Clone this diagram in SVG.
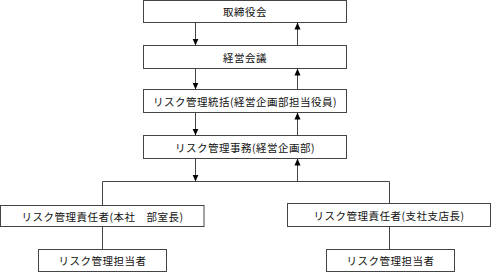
<svg xmlns="http://www.w3.org/2000/svg" width="492" height="273" viewBox="0 0 492 273">
<style>
.box{fill:#fff;stroke:#444;stroke-width:1}
.ln{fill:none;stroke:#444;stroke-width:1}
text{font-family:"Noto Sans CJK JP","Liberation Serif",serif;font-size:10.5px;fill:#111;text-anchor:middle;dominant-baseline:central;letter-spacing:0.5px}
</style>
<defs>
<marker id="ah" viewBox="0 0 7 7" refX="7" refY="3.5" markerWidth="7" markerHeight="7" markerUnits="userSpaceOnUse" orient="auto">
<path d="M0,0.5 L7,3.5 L0,6.5 Z" fill="#000"/>
</marker>
</defs>
<rect width="492" height="273" fill="#fff"/>
<g id="connectors">
<line class="ln" x1="195.5" y1="22.5" x2="195.5" y2="45.5" marker-end="url(#ah)"/>
<line class="ln" x1="195.5" y1="68.5" x2="195.5" y2="89.5" marker-end="url(#ah)"/>
<line class="ln" x1="195.5" y1="112.5" x2="195.5" y2="135.5" marker-end="url(#ah)"/>
<line class="ln" x1="195.5" y1="158.5" x2="195.5" y2="181.5" marker-end="url(#ah)"/>
<line class="ln" x1="297.5" y1="45.5" x2="297.5" y2="22.5" marker-end="url(#ah)"/>
<line class="ln" x1="297.5" y1="89.5" x2="297.5" y2="68.5" marker-end="url(#ah)"/>
<line class="ln" x1="297.5" y1="135.5" x2="297.5" y2="112.5" marker-end="url(#ah)"/>
<line class="ln" x1="297.5" y1="181.5" x2="297.5" y2="158.5" marker-end="url(#ah)"/>
<polyline class="ln" points="102.5,205.5 102.5,181.5 389.5,181.5 389.5,203.5"/>
<line class="ln" x1="102.5" y1="226.5" x2="102.5" y2="249.5"/>
<line class="ln" x1="389.5" y1="226.5" x2="389.5" y2="249.5"/>
</g>
<g id="n1"><rect class="box" x="143.5" y="0.5" width="203" height="22"/><text x="245" y="11.5">取締役会</text></g>
<g id="n2"><rect class="box" x="143.5" y="45.5" width="203" height="23"/><text x="245" y="57">経営会議</text></g>
<g id="n3"><rect class="box" x="143.5" y="89.5" width="203" height="23"/><text x="245" y="101">リスク管理統括(経営企画部担当役員)</text></g>
<g id="n4"><rect class="box" x="143.5" y="135.5" width="203" height="23"/><text x="245" y="147">リスク管理事務(経営企画部)</text></g>
<g id="n5"><rect class="box" x="0.5" y="205.5" width="203.5" height="21"/><text x="102.5" y="216">リスク管理責任者(本社　部室長)</text></g>
<g id="n6"><rect class="box" x="287.5" y="203.5" width="203" height="23"/><text x="389" y="215">リスク管理責任者(支社支店長)</text></g>
<g id="n7"><rect class="box" x="38.5" y="249.5" width="128" height="22"/><text x="102.5" y="260.5">リスク管理担当者</text></g>
<g id="n8"><rect class="box" x="326.5" y="249.5" width="128" height="22"/><text x="390.5" y="260.5">リスク管理担当者</text></g>
</svg>
